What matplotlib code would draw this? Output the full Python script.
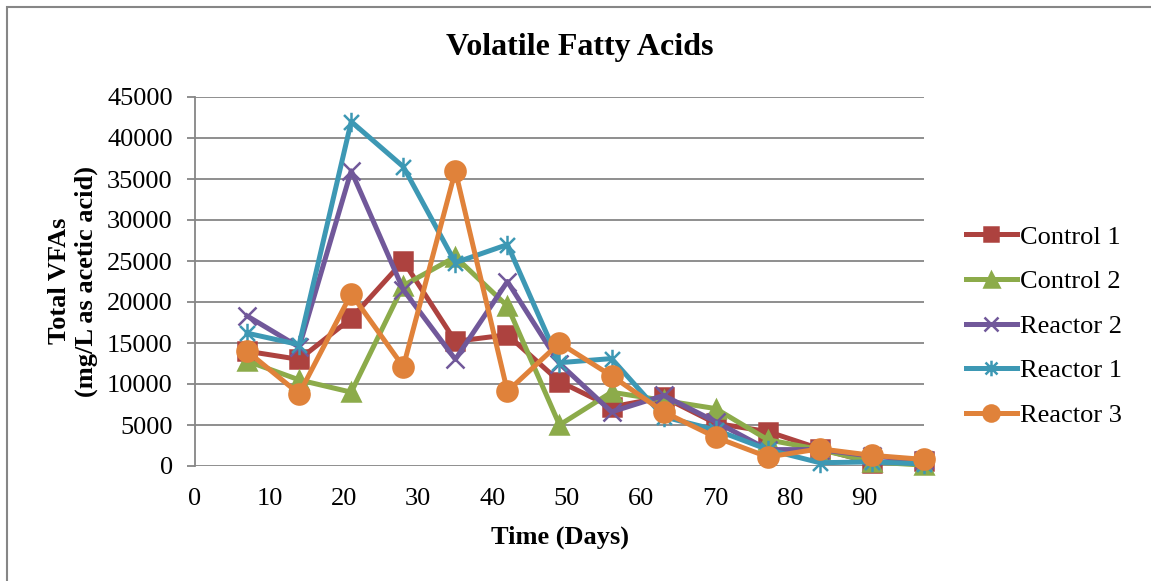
import numpy as np
import matplotlib
matplotlib.use("Agg")
import matplotlib.pyplot as plt
from matplotlib.path import Path
from matplotlib.patches import Rectangle

plt.rcParams['font.family'] = ['Liberation Serif', 'DejaVu Serif']

# Sampling days and total VFA readings (mg/L as acetic acid)
days = [7, 14, 21, 28, 35, 42, 49, 56, 63, 70, 77, 84, 91, 98]
control_1 = [14000, 13000, 18000, 25000, 15200, 16000, 10300, 7200, 8400, 5200, 4200, 2100, 400, 600]
control_2 = [12800, 10500, 9000, 22000, 25500, 19500, 5000, 9000, 8000, 7000, 3200, 2000, 500, 100]
reactor_2 = [18300, 14500, 36000, 21500, 13000, 22500, 12500, 6600, 8600, 5400, 2000, 2000, 1200, 700]
reactor_1 = [16200, 14800, 42000, 36500, 24800, 27000, 12600, 13100, 6000, 4400, 2000, 400, 500, 250]
reactor_3 = [14000, 8800, 21000, 12100, 36000, 9100, 15000, 11000, 6600, 3500, 1100, 2100, 1300, 800]

x_ticks = [0, 10, 20, 30, 40, 50, 60, 70, 80, 90]
y_ticks = [0, 5000, 10000, 15000, 20000, 25000, 30000, 35000, 40000, 45000]

# asterisk marker: an X with a vertical bar through it
star = Path([(-1, -1), (1, 1), (-1, 1), (1, -1), (0, -1.3), (0, 1.3)],
            [Path.MOVETO, Path.LINETO] * 3)

series = [
    ("Control 1", control_1, "#AD423F", "s", 12.5),
    ("Control 2", control_2, "#8CAB4A", "^", 13.5),
    ("Reactor 2", reactor_2, "#71589A", "x", 13),
    ("Reactor 1", reactor_1, "#3D98B4", star, 14),
    ("Reactor 3", reactor_3, "#E0823A", "o", 14.5),
]

fig = plt.figure(figsize=(11.51, 5.81), dpi=100)
ax = fig.add_axes([195 / 1151, 1 - 466 / 581, 729 / 1151, 369 / 581])

for name, vals, color, marker, ms in series:
    ax.plot(days, vals, color=color, lw=3.6, marker=marker, ms=ms,
            mfc=color, mec=color, mew=1.8, label=name, clip_on=False)

ax.set_xlim(0, 98)
ax.set_ylim(0, 45000)
ax.set_xticks(x_ticks)
ax.set_yticks(y_ticks)
ax.tick_params(axis='x', length=0, pad=16, labelsize=19)
ax.tick_params(axis='y', length=6, width=1.3, color='#868686', pad=10, labelsize=19)
ax.grid(axis='y', color='#868686', lw=1.3)
ax.set_axisbelow(True)
for side in ['top', 'right', 'bottom']:
    ax.spines[side].set_visible(False)
ax.spines['left'].set_color('#868686')
ax.spines['left'].set_linewidth(1.3)

fig.text(580 / 1151, 1 - 47 / 581, "Volatile Fatty Acids", fontsize=23,
         fontweight='bold', ha='center', va='center')
fig.text(560 / 1151, 1 - 537 / 581, "Time (Days)", fontsize=19,
         fontweight='bold', ha='center', va='center')
fig.text(73 / 1151, 1 - 281 / 581, "Total VFAs\n(mg/L as acetic acid)", fontsize=19,
         fontweight='bold', ha='center', va='center', rotation=90,
         linespacing=1.25)

ax.legend(loc='center left', bbox_to_anchor=(955 / 1151, 1 - 326 / 581),
          bbox_transform=fig.transFigure, frameon=False, fontsize=19,
          handlelength=1.95, handletextpad=0.1, labelspacing=0.8,
          borderaxespad=0, markerscale=0.8)

# outer chart border
fig.patches.append(Rectangle((7 / 1151, -0.1), 1.2, 1 - 7 / 581 + 0.1,
                             transform=fig.transFigure, fill=False,
                             ec='#868686', lw=1.5))

fig.savefig("out.png", dpi=100)
